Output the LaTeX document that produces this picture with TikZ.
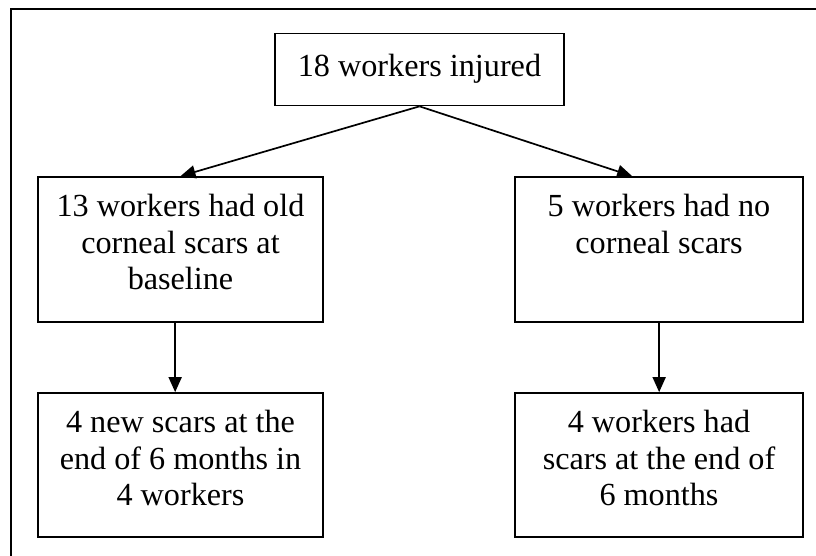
\documentclass[tikz,border=0pt]{standalone}
\usepackage{fontspec}
\setmainfont{Liberation Serif}
\usetikzlibrary{calc,arrows.meta}
\begin{document}
\begin{tikzpicture}[x=1pt,y=1pt,
  box/.style={draw, line width=1.7pt, inner sep=0pt},
  txt/.style={anchor=north, inner sep=0pt, align=center, font=\fontsize{32.2}{36.8}\selectfont},
  arr/.style={line width=1.7pt, -{Triangle[length=15pt,width=13pt]}}]
\useasboundingbox (0,0) rectangle (816,556);
\draw[line width=1.8pt] (11,0) -- (11,547) -- (816,547);
% boxes
\node[box, minimum width=289pt, minimum height=72pt] (t) at (419.5,486.5) {};
\node[box, minimum width=285pt, minimum height=145pt] (lm) at (180.5,306.5) {};
\node[box, minimum width=288pt, minimum height=145pt] (rm) at (659,306.5) {};
\node[box, minimum width=285pt, minimum height=144pt] (lb) at (180.5,91) {};
\node[box, minimum width=288pt, minimum height=144pt] (rb) at (659,91) {};
% texts
\node[txt] (tt) at ($(t.north)+(0,-20)$) {\rule{0pt}{24pt}18 workers injured};
\node[txt] (lmt) at ($(lm.north)+(0,-16)$) {\rule{0pt}{24pt}13 workers had old\\corneal scars at\\baseline};
\node[txt] (rmt) at ($(rm.north)+(0,-16)$) {\rule{0pt}{24pt}5 workers had no\\corneal scars};
\node[txt] (lbt) at ($(lb.north)+(0,-16)$) {\rule{0pt}{24pt}4 new scars at the\\end of 6 months in\\4 workers};
\node[txt] (rbt) at ($(rb.north)+(0,-16)$) {\rule{0pt}{24pt}4 workers had\\scars at the end of\\6 months};
% connector ends
\coordinate (rmin) at ($(rm.north west)+(118,0)$);
\coordinate (lmout) at ($(lm.south west)+(138,0)$);
\coordinate (lbin) at ($(lb.north west)+(138,0)$);
\coordinate (rmout) at ($(rm.south west)+(145,0)$);
\coordinate (rbin) at ($(rb.north west)+(145,0)$);
% connectors
\draw[arr] (t.south) -- (lm.north);
\draw[arr] (t.south) -- (rmin);
\draw[arr] (lmout) -- (lbin);
\draw[arr] (rmout) -- (rbin);
\end{tikzpicture}
\end{document}
